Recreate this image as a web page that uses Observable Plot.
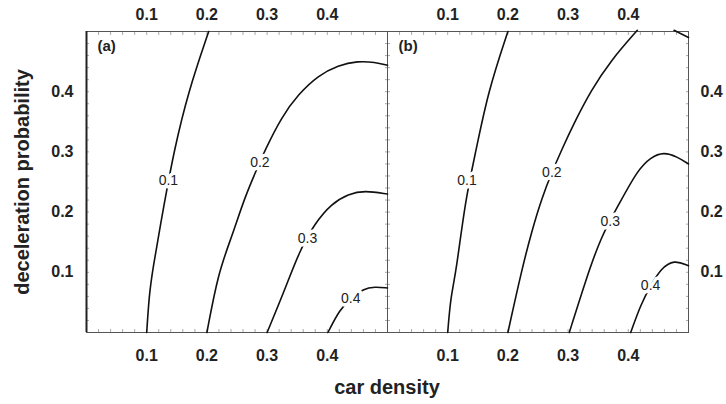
<!DOCTYPE html>
<html>
<head>
<meta charset="utf-8">
<script src="https://cdn.jsdelivr.net/npm/d3@7"></script>
<script src="https://cdn.jsdelivr.net/npm/@observablehq/plot@0.6"></script>
<style>
  html, body { margin: 0; padding: 0; background: #fff; }
  #wrap { position: relative; width: 726px; height: 404px; font-family: "Liberation Sans", Arial, sans-serif; }
  .title { position: absolute; font-weight: bold; font-size: 20px; color: #222; white-space: nowrap; }
  #ytitle { left: 22px; top: 182px; transform: translate(-50%, -50%) rotate(-90deg); }
  #xtitle { left: 387px; top: 387px; transform: translate(-50%, -50%); }
</style>
</head>
<body>
<div id="wrap">
  <div id="chart"></div>
  <div class="title" id="ytitle">deceleration probability</div>
  <div class="title" id="xtitle">car density</div>
</div>
<script>
// Panels and contour levels
const panels = ["(a)", "(b)"];
const levels = [0.1, 0.2, 0.3, 0.4];
const xTicks = [0.1, 0.2, 0.3, 0.4];
const yTicks = [0.1, 0.2, 0.3, 0.4];

// Panel (a) contour lines: [car density, deceleration probability]
const a01 = [[0.100,0.000],[0.104,0.060],[0.109,0.100],[0.130,0.219],[0.145,0.300],[0.169,0.400],[0.203,0.500]];
const a02 = [[0.200,0.000],[0.219,0.100],[0.241,0.158],[0.263,0.225],[0.282,0.269],[0.296,0.302],[0.324,0.358],[0.352,0.396],[0.385,0.427],[0.418,0.444],[0.451,0.451],[0.479,0.449],[0.500,0.444]];
const a03 = [[0.300,0.000],[0.329,0.070],[0.354,0.136],[0.379,0.181],[0.407,0.214],[0.435,0.230],[0.462,0.236],[0.500,0.230]];
const a04 = [[0.401,0.000],[0.421,0.039],[0.439,0.056],[0.460,0.073],[0.479,0.076],[0.500,0.074]];
// Panel (a) contour label positions
const aLabels = [[0.136,0.252],[0.288,0.283],[0.367,0.156],[0.439,0.056]];

// Panel (b) contour lines
const b01 = [[0.100,0.000],[0.105,0.060],[0.114,0.100],[0.129,0.219],[0.147,0.302],[0.167,0.400],[0.200,0.500]];
const b02 = [[0.200,0.000],[0.222,0.100],[0.240,0.170],[0.257,0.225],[0.273,0.266],[0.290,0.305],[0.310,0.348],[0.338,0.402],[0.371,0.452],[0.415,0.502]];
const b02top = [[0.476,0.502],[0.500,0.490]];
const b03 = [[0.302,0.000],[0.329,0.086],[0.354,0.158],[0.385,0.214],[0.415,0.269],[0.437,0.291],[0.459,0.300],[0.481,0.292],[0.500,0.280]];
const b04 = [[0.404,0.000],[0.421,0.047],[0.437,0.078],[0.454,0.106],[0.476,0.121],[0.500,0.111]];
// Panel (b) contour label positions
const bLabels = [[0.132,0.252],[0.273,0.266],[0.370,0.185],[0.437,0.078]];

// Build tables from the arrays
const lines = [
  ["(a)", "a1", a01], ["(a)", "a2", a02], ["(a)", "a3", a03], ["(a)", "a4", a04],
  ["(b)", "b1", b01], ["(b)", "b2", b02], ["(b)", "b2t", b02top], ["(b)", "b3", b03], ["(b)", "b4", b04]
].flatMap(([panel, id, pts]) => pts.map(([x, y]) => ({panel, id, x, y})));

const labels = [
  ...aLabels.map(([x, y], i) => ({panel: "(a)", x, y, text: levels[i].toFixed(1)})),
  ...bLabels.map(([x, y], i) => ({panel: "(b)", x, y, text: levels[i].toFixed(1)}))
];
const panelTags = panels.map(p => ({panel: p}));
const minorTicks = d3.range(0.02, 0.5, 0.02);
const fmt = d3.format(".1f");

const chart = Plot.plot({
  width: 726,
  height: 404,
  marginLeft: 85,
  marginRight: 38,
  marginTop: 31,
  marginBottom: 72,
  style: {fontFamily: "'Liberation Sans', Arial, sans-serif", background: "#fff"},
  fx: {domain: panels, padding: 0, axis: null},
  x: {domain: [0, 0.5]},
  y: {domain: [0, 0.5]},
  marks: [
    // inward minor ticks on every side of every panel
    Plot.axisX(minorTicks, {anchor: "bottom", tickSize: -3, fill: "none", stroke: "#aaa", label: null, facetAnchor: null}),
    Plot.axisX(minorTicks, {anchor: "top", tickSize: -3, fill: "none", stroke: "#aaa", label: null, facetAnchor: null}),
    Plot.axisY(minorTicks, {anchor: "left", tickSize: -3, fill: "none", stroke: "#aaa", label: null, facetAnchor: null}),
    Plot.axisY(minorTicks, {anchor: "right", tickSize: -3, fill: "none", stroke: "#aaa", label: null, facetAnchor: null}),
    // tick labels
    Plot.axisX(xTicks, {anchor: "bottom", tickSize: 0, tickPadding: 17, tickFormat: fmt, fontSize: 16, fontWeight: "bold", fill: "#222", label: null}),
    Plot.axisX(xTicks, {anchor: "top", tickSize: 0, tickPadding: 12, tickFormat: fmt, fontSize: 16, fontWeight: "bold", fill: "#222", label: null}),
    Plot.axisY(yTicks, {anchor: "left", tickSize: 0, tickPadding: 13, tickFormat: fmt, fontSize: 16, fontWeight: "bold", fill: "#222", label: null}),
    Plot.axisY(yTicks, {anchor: "right", tickSize: 0, tickPadding: 12, tickFormat: fmt, fontSize: 16, fontWeight: "bold", fill: "#222", label: null}),
    // frame
    Plot.frame({stroke: "#555", strokeWidth: 1}),
    Plot.ruleX([{panel: "(a)", x: 0}], {x: "x", fx: "panel", stroke: "#222", strokeWidth: 2}),
    // contour lines
    Plot.line(lines, {x: "x", y: "y", z: "id", fx: "panel", curve: "basis", stroke: "#111", strokeWidth: 1.6}),
    // contour labels with white halo breaking the line
    Plot.text(labels, {x: "x", y: "y", fx: "panel", text: "text", fontSize: 14, fill: "#222", stroke: "white", strokeWidth: 7, paintOrder: "stroke"}),
    // panel tags
    Plot.text(panelTags, {fx: "panel", text: "panel", frameAnchor: "top-left", dx: 11, dy: 9, fontSize: 15, fontWeight: "bold", fill: "#222"})
  ]
});
document.getElementById("chart").appendChild(chart);
</script>
</body>
</html>
